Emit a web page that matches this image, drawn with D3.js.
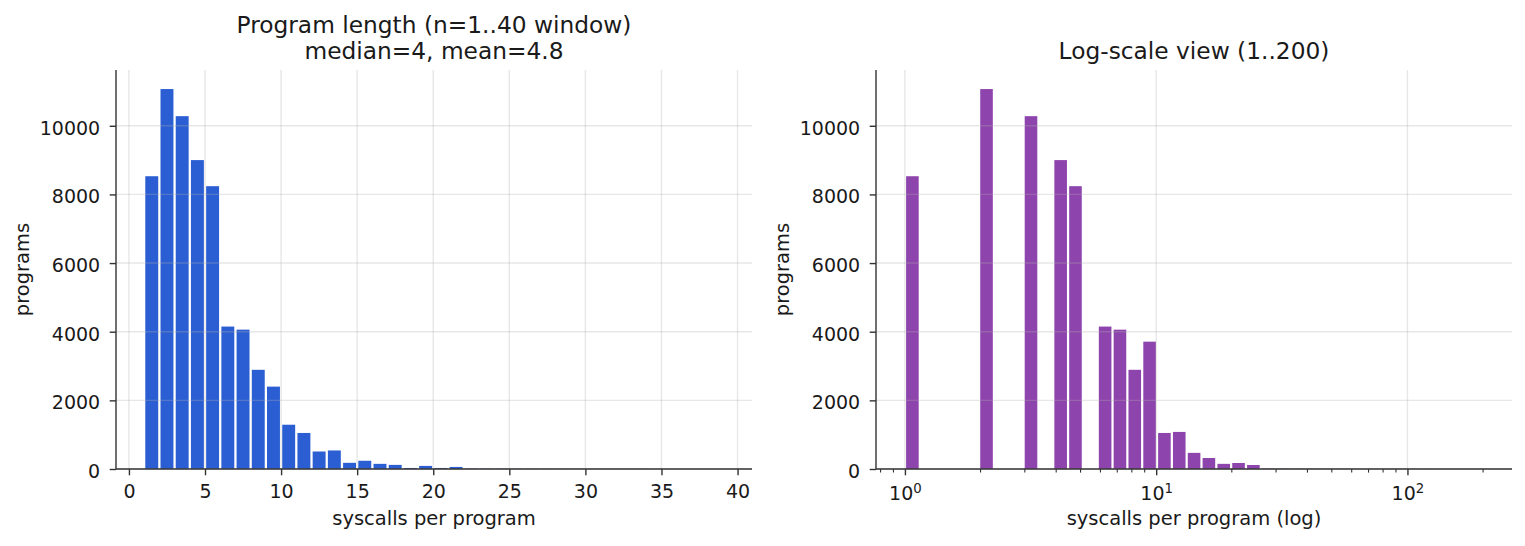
<!DOCTYPE html>
<html>
<head>
<meta charset="utf-8">
<script src="https://cdn.jsdelivr.net/npm/d3@7"></script>
<style>
  body { margin: 0; background: #fff; }
  svg { display: block; font-family: "DejaVu Sans", sans-serif; }
</style>
</head>
<body>
<div id="chart"></div>
<script>
// program length (syscalls per program), one bin per integer length
const lengths = [1, 2, 3, 4, 5, 6, 7, 8, 9, 10, 11, 12, 13, 14, 15, 16, 17, 18, 19, 20,
  21, 22, 23, 24, 25, 26, 27, 28, 29, 30, 31, 32, 33, 34, 35, 36, 37, 38, 39, 40];
const lengthCounts = [8530, 11070, 10280, 9000, 8240, 4150, 4060, 2890, 2400, 1290,
  1050, 510, 540, 180, 240, 150, 120, 30, 90, 30,
  60, 10, 8, 8, 6, 5, 4, 4, 3, 3,
  2, 2, 2, 1, 1, 1, 1, 1, 0, 0];

// log-spaced bins, 1..200
const logEdges = [1, 1.1455, 1.3122, 1.5032, 1.7219, 1.9725, 2.2594, 2.5882, 2.9648, 3.3963,
  3.8905, 4.4566, 5.1051, 5.848, 6.699, 7.6736, 8.7902, 10.069, 11.535, 13.213,
  15.136, 17.338, 19.861, 22.751, 26.062, 29.854, 34.198, 39.174, 44.875, 51.404,
  58.884, 67.45, 77.27, 88.51, 101.39, 116.1, 133.0, 152.4, 174.6, 200];
const logCounts = [8530, 0, 0, 0, 0, 11070, 0, 0, 10280, 0,
  9000, 8240, 0, 4150, 4060, 2890, 3710, 1050, 1080, 470,
  320, 150, 175, 117, 12, 9, 7, 5, 4, 3,
  2, 2, 1, 1, 1, 1, 0, 0, 0];

const linTicks = [0, 5, 10, 15, 20, 25, 30, 35, 40];
const countTicks = [0, 2000, 4000, 6000, 8000, 10000];
const logMajor = [1, 10, 100];
const logMajorExp = ['0', '1', '2'];
const logMinor = [0.8, 0.9, 2, 3, 4, 5, 6, 7, 8, 9, 20, 30, 40, 50, 60, 70, 80, 90, 200];

const W = 1525, H = 546;
const RWIDTH = 0.85;
const plotTop = 70, plotBottom = 469;
const tickFont = 19, labelFont = 19.5, titleFont = 23.3;

const svg = d3.select('#chart').append('svg')
  .attr('width', W)
  .attr('height', H);

svg.append('rect').attr('width', W).attr('height', H).attr('fill', '#fff');

const yScale = d3.scaleLinear().domain([0, 11625]).range([plotBottom, plotTop]);

function drawPanel(cfg) {
  const g = svg.append('g');
  const x = cfg.x;
  const [x0, x1] = x.range();
  const barLo = d => d.lo + (1 - RWIDTH) / 2 * (d.hi - d.lo);
  const barHi = d => d.hi - (1 - RWIDTH) / 2 * (d.hi - d.lo);

  // bars
  g.selectAll('rect.bar')
    .data(cfg.bins)
    .enter()
    .append('rect')
    .attr('class', 'bar')
    .attr('x', d => x(barLo(d)))
    .attr('width', d => x(barHi(d)) - x(barLo(d)))
    .attr('y', d => yScale(d.count))
    .attr('height', d => plotBottom - yScale(d.count))
    .attr('fill', cfg.color);

  // grid (drawn over the bars, faint)
  const grid = g.append('g')
    .attr('stroke', '#b0b0b0')
    .attr('stroke-opacity', 0.3)
    .attr('stroke-width', 1.4);
  grid.selectAll('line.gx')
    .data(cfg.xTicks)
    .enter()
    .append('line')
    .attr('x1', d => x(d)).attr('x2', d => x(d))
    .attr('y1', plotTop).attr('y2', plotBottom);
  grid.selectAll('line.gy')
    .data(countTicks)
    .enter()
    .append('line')
    .attr('x1', x0).attr('x2', x1)
    .attr('y1', d => yScale(d)).attr('y2', d => yScale(d));

  // y axis
  const yAxis = g.append('g')
    .attr('transform', `translate(${x0},0)`)
    .call(d3.axisLeft(yScale).tickValues(countTicks).tickSize(6.3).tickPadding(9.5).tickFormat(d3.format('d')));
  yAxis.selectAll('text').attr('dy', '0.45em');

  // x axis
  const xAxis = g.append('g')
    .attr('transform', `translate(0,${plotBottom})`)
    .call(d3.axisBottom(x).tickValues(cfg.xTicks).tickSize(6.3).tickPadding(9.5)
      .tickFormat(cfg.log ? () => '' : d3.format('d')));
  xAxis.selectAll('text').attr('dy', '0.7em');

  if (cfg.log) {
    xAxis.selectAll('.tick text')
      .attr('dy', null)
      .attr('y', 31)
      .each(function(d, i) {
        const t = d3.select(this);
        t.append('tspan').text('10');
        t.append('tspan')
          .attr('dy', -7)
          .attr('font-size', 13.3)
          .text(logMajorExp[i]);
      });
    xAxis.selectAll('.minor')
      .data(logMinor)
      .enter()
      .append('line')
      .attr('class', 'minor')
      .attr('x1', d => x(d)).attr('x2', d => x(d))
      .attr('y1', 0).attr('y2', 3.6)
      .attr('stroke', '#333')
      .attr('stroke-width', 1.1);
  }

  [yAxis, xAxis].forEach(a => {
    a.select('.domain').attr('stroke', '#333').attr('stroke-width', 1.4);
    a.selectAll('.tick line').attr('stroke', '#333').attr('stroke-width', 1.4);
    a.selectAll('text').attr('font-size', tickFont).attr('fill', '#1a1a1a')
      .attr('font-family', '"DejaVu Sans", sans-serif');
  });
  // matplotlib-style spines: no end caps
  yAxis.select('.domain').attr('d', `M0,${plotBottom}V${plotTop}`);
  xAxis.select('.domain').attr('d', `M${x0},0H${x1}`);

  const cx = (x0 + x1) / 2;
  g.append('text')
    .attr('x', cx)
    .attr('y', 525)
    .attr('text-anchor', 'middle')
    .attr('font-size', labelFont)
    .attr('fill', '#1a1a1a')
    .text(cfg.xLabel);

  g.append('text')
    .attr('transform', `translate(${x0 - 87},${(plotTop + plotBottom) / 2}) rotate(-90)`)
    .attr('text-anchor', 'middle')
    .attr('font-size', labelFont)
    .attr('fill', '#1a1a1a')
    .text('programs');

  cfg.title.forEach((line, i) => {
    g.append('text')
      .attr('x', cx)
      .attr('y', 59 - (cfg.title.length - 1 - i) * 26)
      .attr('text-anchor', 'middle')
      .attr('font-size', titleFont)
      .attr('fill', '#1a1a1a')
      .text(line);
  });
}

drawPanel({
  x: d3.scaleLinear().domain([-0.85, 40.95]).range([116, 752]),
  bins: lengths.map((n, i) => ({ lo: n, hi: n + 1, count: lengthCounts[i] })),
  xTicks: linTicks,
  color: '#2b5ed3',
  xLabel: 'syscalls per program',
  title: ['Program length (n=1..40 window)', 'median=4, mean=4.8']
});

drawPanel({
  x: d3.scaleLog().domain([Math.pow(10, -0.1151), Math.pow(10, 2.4161)]).range([876, 1512]),
  bins: logCounts.map((c, i) => ({ lo: logEdges[i], hi: logEdges[i + 1], count: c })),
  xTicks: logMajor,
  log: true,
  color: '#8e44ad',
  xLabel: 'syscalls per program (log)',
  title: ['Log-scale view (1..200)']
});
</script>
</body>
</html>
